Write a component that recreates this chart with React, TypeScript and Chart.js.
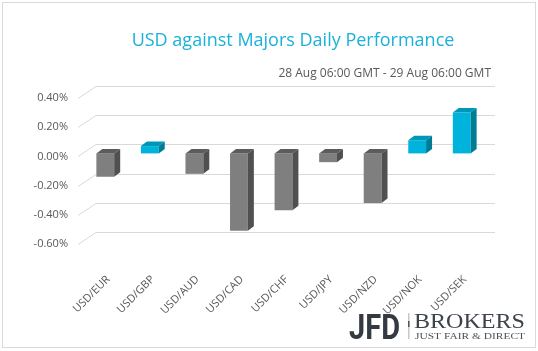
import React, { useEffect, useRef } from "react";
import { Chart, registerables } from "chart.js";

Chart.register(...registerables);

const categories = ["USD/EUR", "USD/GBP", "USD/AUD", "USD/CAD", "USD/CHF", "USD/JPY", "USD/NZD", "USD/NOK", "USD/SEK"];
const performance = [-0.16, 0.05, -0.14, -0.53, -0.39, -0.06, -0.34, 0.09, 0.28];
const yMin = -0.6;
const yMax = 0.4;
const yStep = 0.2;
const titleText = "USD against Majors Daily Performance";
const subtitleText = "28 Aug 06:00 GMT - 29 Aug 06:00 GMT";

const CYAN = "#00b3dc";
const CYAN_TOP = "#0096b8";
const CYAN_SIDE = "#007d96";
const GRAY = "#7f7f7f";
const GRAY_TOP = "#5c5c5c";
const GRAY_SIDE = "#505050";
const GRID = "#d9d9d9";
const TEXT = "#595959";

const decorPlugin = {
  id: "decor",
  beforeDatasetsDraw(chart: any) {
    const ctx = chart.ctx;
    const y = chart.scales.y;
    const { left, right } = chart.chartArea;
    ctx.save();
    ctx.strokeStyle = GRID;
    ctx.lineWidth = 1;
    y.ticks.forEach((t: any) => {
      const py = Math.round(y.getPixelForValue(t.value)) + 0.5;
      ctx.beginPath();
      ctx.moveTo(left - 5, py + 3);
      ctx.lineTo(left + 13, py - 9);
      ctx.lineTo(right + 11, py - 9);
      ctx.stroke();
    });
    ctx.restore();
  },
  afterDatasetsDraw(chart: any) {
    const ctx = chart.ctx;
    const meta = chart.getDatasetMeta(0);
    const dx = 6;
    const dy = 4.5;
    ctx.save();
    meta.data.forEach((bar: any, i: number) => {
      const v = performance[i];
      const l = bar.x - bar.width / 2;
      const r = bar.x + bar.width / 2;
      const top = Math.min(bar.y, bar.base);
      const bot = Math.max(bar.y, bar.base);
      const pos = v >= 0;
      ctx.fillStyle = pos ? CYAN_TOP : GRAY_TOP;
      ctx.beginPath();
      ctx.moveTo(l, top);
      ctx.lineTo(l + dx, top - dy);
      ctx.lineTo(r + dx, top - dy);
      ctx.lineTo(r, top);
      ctx.closePath();
      ctx.fill();
      ctx.fillStyle = pos ? CYAN_SIDE : GRAY_SIDE;
      ctx.beginPath();
      ctx.moveTo(r, top);
      ctx.lineTo(r + dx, top - dy);
      ctx.lineTo(r + dx, bot - dy);
      ctx.lineTo(r, bot);
      ctx.closePath();
      ctx.fill();
    });
    ctx.restore();
  },
  afterDraw(chart: any) {
    const ctx = chart.ctx;
    ctx.save();
    // border
    ctx.strokeStyle = "#d9d9d9";
    ctx.lineWidth = 1;
    ctx.strokeRect(2.5, 2.5, 533, 345);
    // title
    ctx.fillStyle = "#1ab1da";
    ctx.font = "18px 'Open Sans'";
    ctx.textAlign = "center";
    ctx.textBaseline = "middle";
    ctx.fillText(titleText, 293, 41);
    // subtitle
    ctx.fillStyle = TEXT;
    ctx.font = "12px 'Open Sans'";
    ctx.textAlign = "right";
    ctx.fillText(subtitleText, 491, 74);
    // logo
    ctx.textAlign = "left";
    ctx.textBaseline = "alphabetic";
    const fitText = (text: string, font: string, x: number, base: number, w: number, color: string) => {
      ctx.font = font;
      const m = ctx.measureText(text).width;
      ctx.save();
      ctx.translate(x, base);
      ctx.scale(w / m, 1);
      ctx.fillStyle = color;
      ctx.fillText(text, 0, 0);
      ctx.restore();
    };
    fitText("JFD", "bold 35px Roboto", 349, 338.5, 51, "#343a42");
    ctx.fillStyle = "#c8c8c8";
    ctx.fillRect(408, 313, 1.5, 26);
    ctx.fillStyle = "#555";
    ctx.fillRect(408, 321, 1.5, 6);
    fitText("BROKERS", "22px 'Liberation Serif'", 414, 327.5, 111, "#3d434b");
    fitText("JUST FAIR & DIRECT", "8.5px 'Liberation Serif'", 415, 339, 110, "#4a5058");
    ctx.restore();
  },
};

export default function App() {
  const ref = useRef<HTMLCanvasElement | null>(null);
  useEffect(() => {
    if (!ref.current) return;
    const chart = new Chart(ref.current, {
      type: "bar",
      data: {
        labels: categories,
        datasets: [
          {
            data: performance,
            backgroundColor: performance.map((v) => (v >= 0 ? CYAN : GRAY)),
            borderWidth: 0,
            barPercentage: 0.4,
            categoryPercentage: 1,
          },
        ],
      },
      options: {
        animation: false,
        responsive: true,
        maintainAspectRatio: false,
        layout: { padding: { top: 95, right: 54, left: 0, bottom: 0 } },
        plugins: {
          legend: { display: false },
          title: { display: false },
          tooltip: { enabled: false },
        },
        scales: {
          x: {
            grid: { display: false, drawTicks: false },
            border: { display: false },
            ticks: {
              color: TEXT,
              font: { family: "'Open Sans'", size: 11 },
              minRotation: 45,
              maxRotation: 45,
              padding: 32,
              labelOffset: 3,
            },
            afterFit: (s: any) => {
              s.height = 110;
            },
          },
          y: {
            min: yMin,
            max: yMax,
            grid: { display: false, drawTicks: false },
            border: { display: false },
            ticks: {
              stepSize: yStep,
              color: TEXT,
              font: { family: "'Open Sans'", size: 11 },
              padding: 15,
              labelOffset: 3,
              callback: (v: any) => {
                const n = Math.abs(Number(v)) < 1e-9 ? 0 : Number(v);
                return n.toFixed(2) + "%";
              },
            },
            afterFit: (s: any) => {
              s.width = 83;
            },
          },
        },
      },
      plugins: [decorPlugin],
    });
    return () => chart.destroy();
  }, []);
  return (
    <div style={{ position: "absolute", left: 0, top: 0, width: 538, height: 351, background: "#fff" }}>
      <canvas ref={ref} />
    </div>
  );
}
